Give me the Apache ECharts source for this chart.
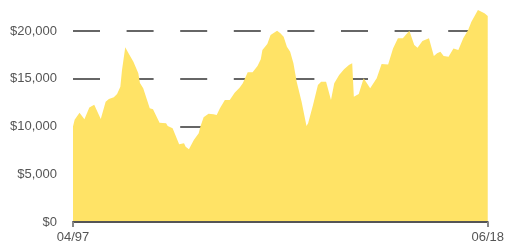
<!DOCTYPE html>
<html>
<head>
<meta charset="utf-8">
<script src="https://cdn.jsdelivr.net/npm/echarts@6/dist/echarts.min.js"></script>
<style>
  html, body { margin: 0; padding: 0; background: #fff; }
  #chart { width: 507px; height: 246px; }
</style>
</head>
<body>
<div id="chart"></div>
<script>
// growth of $10,000, month
var dates = [
  '1997-04', '1997-05', '1997-08', '1997-09', '1997-11', '1998-02', '1998-05', '1998-09',
  '1998-12', '1999-02', '1999-05', '1999-07', '1999-09', '1999-10', '1999-12', '2000-02',
  '2000-05', '2000-08', '2000-09', '2000-11', '2001-01', '2001-03', '2001-05', '2001-09',
  '2002-01', '2002-02', '2002-05', '2002-09', '2002-12', '2003-01', '2003-03', '2003-06',
  '2003-09', '2003-10', '2003-12', '2004-03', '2004-06', '2004-08', '2004-10', '2005-01',
  '2005-04', '2005-05', '2005-07', '2005-10', '2005-12', '2006-03', '2006-06', '2006-09',
  '2006-11', '2006-12', '2007-03', '2007-05', '2007-09', '2007-11', '2008-01', '2008-03',
  '2008-05', '2008-06', '2008-07', '2008-09', '2008-12', '2009-03', '2009-04', '2009-07',
  '2009-10', '2009-12', '2010-03', '2010-06', '2010-08', '2010-11', '2011-02', '2011-05',
  '2011-07', '2011-08', '2011-11', '2012-02', '2012-06', '2012-10', '2013-01', '2013-05',
  '2013-08', '2013-11', '2014-02', '2014-06', '2014-09', '2014-11', '2015-02', '2015-06',
  '2015-09', '2015-11', '2016-01', '2016-03', '2016-06', '2016-09', '2016-12', '2017-03',
  '2017-06', '2017-08', '2017-12', '2018-04', '2018-06'
];
var values = [
  10000, 10700, 11450, 11450, 10750, 12000, 12280, 10780,
  12600, 12880, 13050, 13400, 14170, 15900, 18300, 17660,
  16780, 15570, 14560, 14000, 12950, 11900, 11800, 10400,
  10330, 10050, 9810, 8130, 8240, 7880, 7610, 8590,
  9290, 9980, 10960, 11340, 11280, 11200, 11900, 12770,
  12770, 12600, 13540, 14060, 14520, 15670, 15670, 16330,
  17030, 18010, 18640, 19580, 20030, 19760, 19400, 18350,
  17830, 17720, 16610, 14690, 12600, 10050, 10330, 12250,
  14340, 14690, 14690, 12770, 14520, 15390, 15990, 16440,
  16610, 13120, 13400, 15040, 14000, 15040, 16540, 16500,
  18180, 19230, 19230, 20030, 18530, 18250, 18950, 19230,
  17380, 17660, 17830, 17380, 17310, 18180, 18010, 19230,
  20100, 20970, 22200, 21850, 21570
];
var yTicks = [0, 5000, 10000, 15000, 20000];

// months counted from the first date
function monthIndex(s) {
  var p = s.split('-');
  return (+p[0] - 1997) * 12 + (+p[1] - 4);
}
var seriesData = dates.map(function (d, i) {
  return [monthIndex(d), values[i]];
});
var firstM = monthIndex(dates[0]);
var lastM = monthIndex(dates[dates.length - 1]);

function money(v) {
  return '$' + String(v).replace(/\B(?=(\d{3})+(?!\d))/g, ',');
}
function pad(n) {
  return n < 10 ? '0' + n : '' + n;
}
function monthLabel(m) {
  var total = 3 + m;
  var year = 1997 + Math.floor(total / 12);
  return pad((total % 12) + 1) + '/' + String(year).slice(2);
}

var dom = document.getElementById('chart');
var myChart = echarts.init(dom, null, { renderer: 'canvas' });

var option = {
  animation: false,
  backgroundColor: '#fff',
  grid: { left: 73, right: 17, top: 31, bottom: 24 },
  xAxis: {
    type: 'value',
    min: firstM,
    max: lastM,
    z: 3,
    axisLine: { lineStyle: { color: '#555', width: 2 } },
    axisTick: {
      customValues: [firstM, lastM],
      length: 5,
      lineStyle: { color: '#888', width: 2 },
    },
    axisLabel: {
      customValues: [firstM, lastM],
      margin: 9,
      color: '#555',
      fontSize: 13,
      fontFamily: 'Liberation Sans',
      formatter: monthLabel,
    },
    splitLine: { show: false },
  },
  yAxis: {
    type: 'value',
    min: yTicks[0],
    max: yTicks[yTicks.length - 1],
    interval: 5000,
    axisLine: { show: false },
    axisTick: { show: false },
    axisLabel: {
      margin: 16,
      color: '#555',
      fontSize: 13,
      fontFamily: 'Liberation Sans',
      formatter: money,
    },
    splitLine: {
      lineStyle: { color: '#666', width: 2, type: [27, 26.6] },
    },
  },
  series: [
    {
      type: 'line',
      data: seriesData,
      symbol: 'none',
      clip: false,
      lineStyle: { width: 0 },
      areaStyle: { color: '#FFE366', opacity: 1 },
    },
  ],
};

myChart.setOption(option);
window.addEventListener('resize', myChart.resize);
</script>
</body>
</html>
